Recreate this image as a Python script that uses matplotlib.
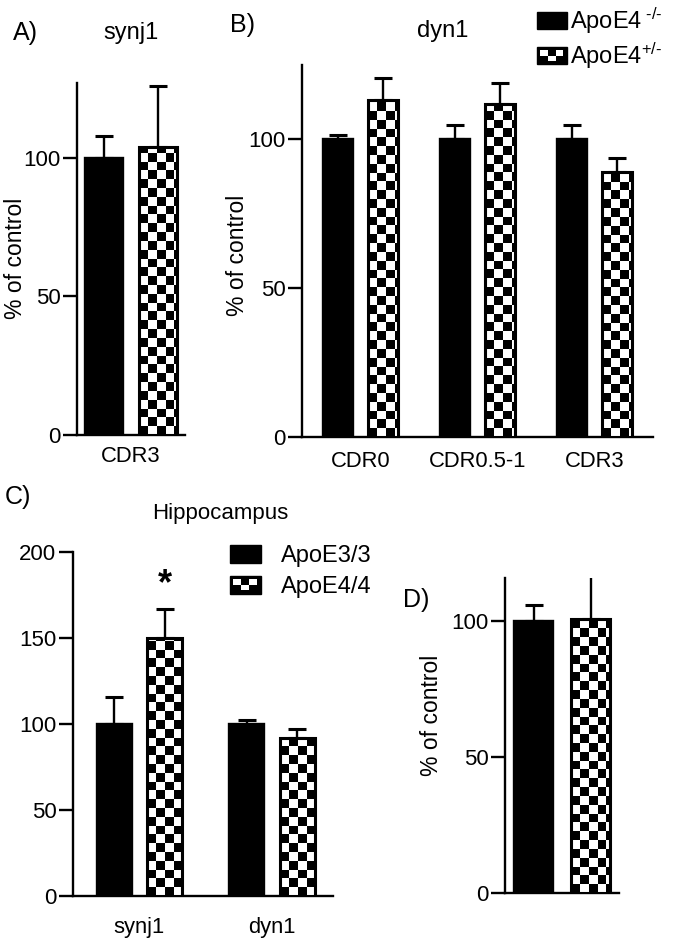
import numpy as np
import matplotlib
matplotlib.use("Agg")
import matplotlib.pyplot as plt
from matplotlib.patches import Rectangle
from matplotlib.legend_handler import HandlerBase

plt.rcParams['font.family'] = ['Liberation Sans', 'DejaVu Sans']
plt.rcParams['mathtext.fontset'] = 'custom'
plt.rcParams['mathtext.rm'] = 'Liberation Sans'
plt.rcParams['mathtext.it'] = 'Liberation Sans'
plt.rcParams['mathtext.bf'] = 'Liberation Sans'

# ---------------- data ----------------
a_cats = ['CDR3']
a_black = [100]
a_black_err = [8]
a_check = [104]
a_check_err = [22]

b_cats = ['CDR0', 'CDR0.5-1', 'CDR3']
b_black = [100, 100.3, 100]
b_black_err = [1.5, 4.4, 4.7]
b_check = [113.4, 112, 89]
b_check_err = [7.1, 6.8, 4.6]

c_cats = ['synj1', 'dyn1']
c_black = [100, 100]
c_black_err = [15.7, 2.3]
c_check = [150, 91.8]
c_check_err = [16.9, 5.2]

d_black = [100]
d_black_err = [6]
d_check = [101]
d_check_err = [16]

b_labels = [r'ApoE4$^{\text{ -/-}}$', r'ApoE4$^{\text{+/-}}$']
c_labels = ['ApoE3/3', 'ApoE4/4']

# ---------------- layout helpers ----------------
W, H = 677, 939
fig = plt.figure(figsize=(W / 100, H / 100), dpi=100)


def rect(l, r, top, bottom):
    return [l / W, 1 - bottom / H, (r - l) / W, (bottom - top) / H]


def fx(x):
    return x / W


def fy(y):
    return 1 - y / H


LW = 1.7
CELL = 8.8  # checker square size in pixels


def style(ax, xlim, ylim, yticks):
    ax.set_xlim(*xlim)
    ax.set_ylim(*ylim)
    for s in ['top', 'right']:
        ax.spines[s].set_visible(False)
    for s in ['left', 'bottom']:
        ax.spines[s].set_linewidth(LW)
    ax.set_yticks(yticks)
    ax.tick_params(axis='y', direction='out', length=10, width=LW, labelsize=16, pad=2)
    ax.tick_params(axis='x', length=0, labelsize=15.8)


def black_bars(ax, x, h, w, err):
    ax.errorbar(x, h, yerr=[np.zeros(len(err)), err], fmt='none', ecolor='black',
                elinewidth=LW, capsize=6.5, capthick=LW * 1.3, zorder=2)
    ax.bar(x, h, w, color='black', edgecolor='black', linewidth=LW, zorder=3)


def checker_bars(ax, x, h, w, err):
    ax.errorbar(x, h, yerr=[np.zeros(len(err)), err], fmt='none', ecolor='black',
                elinewidth=LW, capsize=6.5, capthick=LW * 1.3, zorder=2)
    bars = ax.bar(x, h, w, color='white', edgecolor='none', linewidth=0, zorder=3)
    xl, yl = ax.get_xlim(), ax.get_ylim()
    for b in bars:
        x0, y0 = b.get_x(), b.get_y()
        bw, bh = b.get_width(), b.get_height()
        p0 = ax.transData.transform((x0, y0))
        p1 = ax.transData.transform((x0 + bw, y0 + bh))
        nx = int(np.ceil((p1[0] - p0[0]) / CELL))
        ny = int(np.ceil((p1[1] - p0[1]) / CELL))
        dx = CELL * bw / (p1[0] - p0[0])
        dy = CELL * bh / (p1[1] - p0[1])
        board = (np.indices((ny, nx)).sum(0) % 2).astype(float)
        im = ax.imshow(board, cmap='gray', vmin=0, vmax=1, origin='lower',
                       extent=(x0, x0 + nx * dx, y0, y0 + ny * dy),
                       interpolation='nearest', aspect='auto', zorder=3.5)
        im.set_clip_path(b)
    ax.bar(x, h, w, color='none', edgecolor='black', linewidth=LW * 1.3, zorder=4)
    ax.set_xlim(*xl)
    ax.set_ylim(*yl)


class CheckerHandler(HandlerBase):
    def create_artists(self, legend, orig_handle, xdescent, ydescent, width, height,
                       fontsize, trans):
        x0, y0 = -xdescent, -ydescent
        arts = [Rectangle((x0, y0), width, height, facecolor='black', edgecolor='black',
                          linewidth=1.0, transform=trans)]
        cols, rows = 3, 2
        pad = height * 0.18
        cw = (width - 2 * pad) / cols
        ch = (height - 2 * pad) / rows
        for c in range(cols):
            for r in range(rows):
                if (c + r) % 2 == 1:
                    arts.append(Rectangle((x0 + pad + c * cw, y0 + pad + r * ch), cw, ch,
                                          facecolor='white', edgecolor='none',
                                          transform=trans))
        return arts


class SolidHandler(HandlerBase):
    def create_artists(self, legend, orig_handle, xdescent, ydescent, width, height,
                       fontsize, trans):
        return [Rectangle((-xdescent, -ydescent), width, height, facecolor='black',
                          edgecolor='black', linewidth=1.0, transform=trans)]


solid_h = Rectangle((0, 0), 1, 1, facecolor='black')
check_h = Rectangle((0, 0), 1, 1, facecolor='white')
hmap = {solid_h: SolidHandler(), check_h: CheckerHandler()}

# ---------------- Panel A ----------------
axA = fig.add_axes(rect(77, 185, 83, 435))
style(axA, (-0.5, 1.5), (0, 127), [0, 50, 100])
black_bars(axA, [0], a_black, 0.7, a_black_err)
checker_bars(axA, [1], a_check, 0.7, a_check_err)
axA.set_xticks([0.5])
axA.set_xticklabels(a_cats)
axA.tick_params(axis='x', pad=8)
fig.text(fx(25), fy(33), 'A)', fontsize=18, ha='center', va='center')
fig.text(fx(131), fy(33), 'synj1', fontsize=17, ha='center', va='center')
fig.text(fx(16), fy(258), '% of control', fontsize=16.5, rotation=90, ha='center', va='center')

# ---------------- Panel B ----------------
axB = fig.add_axes(rect(302, 653, 65, 437))
style(axB, (-0.5, 2.5), (0, 125), [0, 50, 100])
xb = np.arange(len(b_cats))
black_bars(axB, xb - 0.19, b_black, 0.26, b_black_err)
checker_bars(axB, xb + 0.19, b_check, 0.26, b_check_err)
axB.set_xticks(xb)
axB.set_xticklabels(b_cats)
axB.tick_params(axis='x', pad=10)
fig.text(fx(243), fy(25), 'B)', fontsize=18, ha='center', va='center')
fig.text(fx(443), fy(31), 'dyn1', fontsize=17, ha='center', va='center')
fig.text(fx(237), fy(255), '% of control', fontsize=16.5, rotation=90, ha='center', va='center')
legB = axB.legend([solid_h, check_h], b_labels, handler_map=hmap, frameon=False,
                  loc='upper left', bbox_to_anchor=(fx(537), fy(6)),
                  bbox_transform=fig.transFigure, fontsize=17, borderpad=0,
                  borderaxespad=0, handlelength=1.25, handleheight=0.72,
                  handletextpad=0.15, labelspacing=0.2)

# ---------------- Panel C ----------------
axC = fig.add_axes(rect(73, 333, 552, 896))
style(axC, (-0.5, 1.46), (0, 200), [0, 50, 100, 150, 200])
xc = np.arange(len(c_cats))
black_bars(axC, xc - 0.19, c_black, 0.265, c_black_err)
checker_bars(axC, xc + 0.19, c_check, 0.265, c_check_err)
axC.set_xticks(xc)
axC.set_xticklabels(c_cats)
axC.tick_params(axis='x', pad=15)
axC.text(xc[0] + 0.19, 181, '*', fontsize=26, fontweight='bold', ha='center', va='center')
fig.text(fx(18), fy(497), 'C)', fontsize=18, ha='center', va='center')
fig.text(fx(220), fy(514), 'Hippocampus', fontsize=16, ha='center', va='center')
legC = axC.legend([solid_h, check_h], c_labels, handler_map=hmap, frameon=False,
                  loc='upper left', bbox_to_anchor=(fx(230), fy(545)),
                  bbox_transform=fig.transFigure, fontsize=17, borderpad=0,
                  borderaxespad=0, handlelength=1.3, handleheight=0.8,
                  handletextpad=0.85, labelspacing=0.35)

# ---------------- Panel D ----------------
axD = fig.add_axes(rect(505, 619, 578, 893))
style(axD, (-0.5, 1.5), (0, 116), [0, 50, 100])
black_bars(axD, [0], d_black, 0.7, d_black_err)
checker_bars(axD, [1], d_check, 0.68, d_check_err)
axD.set_xticks([])
fig.text(fx(416), fy(600), 'D)', fontsize=18, ha='center', va='center')
fig.text(fx(432), fy(715), '% of control', fontsize=16.5, rotation=90, ha='center', va='center')

fig.savefig('out.png', dpi=100)
